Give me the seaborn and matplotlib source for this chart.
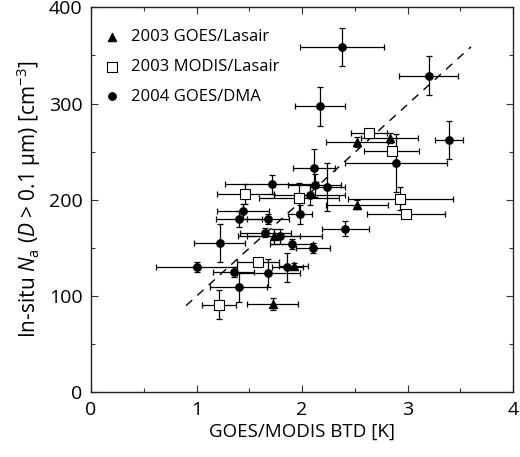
import matplotlib
matplotlib.use("Agg")
import matplotlib.pyplot as plt
import pandas as pd
import seaborn as sns
from matplotlib.ticker import MultipleLocator

# 2003 GOES/Lasair
tri_x = [2.52, 2.83, 2.52, 1.73, 1.92, 1.72]
tri_y = [260, 264, 195, 162, 131, 92]
tri_xerr = [0.29, 0.27, 0.29, 0.25, 0.14, 0.24]
tri_yerr = [5, 5, 5, 8, 3, 6]

# 2003 MODIS/Lasair
sq_x = [2.63, 2.85, 1.46, 1.97, 2.93, 2.98, 1.58, 1.21]
sq_y = [269, 251, 206, 202, 201, 185, 135, 91]
sq_xerr = [0.17, 0.26, 0.27, 0.38, 0.5, 0.37, 0.2, 0.16]
sq_yerr = [3, 3, 10, 15, 12, 3, 3, 15]

# 2004 GOES/DMA
dma_x = [2.38, 3.20, 2.17, 3.39, 2.89, 2.11, 1.71, 2.12, 2.24, 2.07, 1.44, 1.40, 1.68,
         1.98, 1.65, 1.79, 1.22, 1.90, 2.10, 2.41, 1.00, 1.35, 1.68, 1.86, 1.40]
dma_y = [359, 329, 297, 262, 238, 233, 216, 215, 213, 205, 188, 180, 180,
         185, 166, 162, 155, 154, 150, 170, 130, 125, 124, 130, 109]
dma_xerr = [0.4, 0.28, 0.24, 0.13, 0.48, 0.2, 0.44, 0.25, 0.17, 0.34, 0.25, 0.22, 0.2,
            0.11, 0.24, 0.4, 0.24, 0.2, 0.16, 0.22, 0.38, 0.19, 0.3, 0.15, 0.27]
dma_yerr = [20, 20, 20, 20, 30, 20, 10, 12, 25, 10, 8, 8, 5,
            10, 5, 8, 20, 5, 5, 8, 5, 5, 15, 15, 15]

# dashed fit line
fit_x = [0.9, 3.6]
fit_y = [90, 359]

sns.set_theme(style="ticks")
plt.rcParams["font.family"] = ["Open Sans", "DejaVu Sans"]
plt.rcParams["mathtext.fontset"] = "custom"
plt.rcParams["mathtext.rm"] = "Open Sans"
plt.rcParams["mathtext.it"] = "Open Sans:italic"
plt.rcParams["text.color"] = "black"
plt.rcParams["axes.labelcolor"] = "black"
plt.rcParams["xtick.labelcolor"] = "black"
plt.rcParams["ytick.labelcolor"] = "black"

fig = plt.figure(figsize=(5.2, 4.57), dpi=100)
ax = fig.add_axes([0.175, 0.1416, 0.812, 0.8424])

groups = [
    ("2003 GOES/Lasair", tri_x, tri_y, tri_xerr, tri_yerr, "^", "black", 36),
    ("2003 MODIS/Lasair", sq_x, sq_y, sq_xerr, sq_yerr, "s", "white", 60),
    ("2004 GOES/DMA", dma_x, dma_y, dma_xerr, dma_yerr, "o", "black", 30),
]

for label, x, y, xe, ye, mk, fc, s in groups:
    ax.errorbar(x, y, xerr=xe, yerr=ye, fmt="none", ecolor="black",
                elinewidth=0.9, capsize=2, capthick=0.9, zorder=2)

ax.plot(fit_x, fit_y, color="black", lw=1.0, ls=(0, (6, 5)), zorder=1)

for label, x, y, xe, ye, mk, fc, s in groups:
    df = pd.DataFrame({"x": x, "y": y})
    sns.scatterplot(data=df, x="x", y="y", marker=mk, s=s, color=fc,
                    edgecolor="black", linewidth=0.8, label=label, ax=ax, zorder=3)

ax.set_xlim(0, 4)
ax.set_ylim(0, 400)
ax.xaxis.set_major_locator(MultipleLocator(1))
ax.xaxis.set_minor_locator(MultipleLocator(0.5))
ax.yaxis.set_major_locator(MultipleLocator(100))
ax.yaxis.set_minor_locator(MultipleLocator(50))
ax.tick_params(which="both", direction="in", top=True, right=True,
               labelsize=14, color="#333333", width=0.8, pad=6)
ax.tick_params(which="major", length=5)
ax.tick_params(which="minor", length=3)
for sp in ax.spines.values():
    sp.set_color("#222222")
    sp.set_linewidth(1.0)

ax.set_xlabel("GOES/MODIS BTD [K]", fontsize=13.5, labelpad=3)
ax.set_ylabel("In-situ $\\mathit{N}_{\\mathrm{a}}$ ($\\mathit{D}$ > 0.1 μm) [cm$^{-3}$]",
              fontsize=15, labelpad=4)

ax.legend(loc="upper left", frameon=False, fontsize=12, handletextpad=0.6,
          labelspacing=0.82, borderaxespad=0.0, handlelength=1.0,
          bbox_to_anchor=(0.015, 0.96))

fig.savefig("out.png", dpi=100)
